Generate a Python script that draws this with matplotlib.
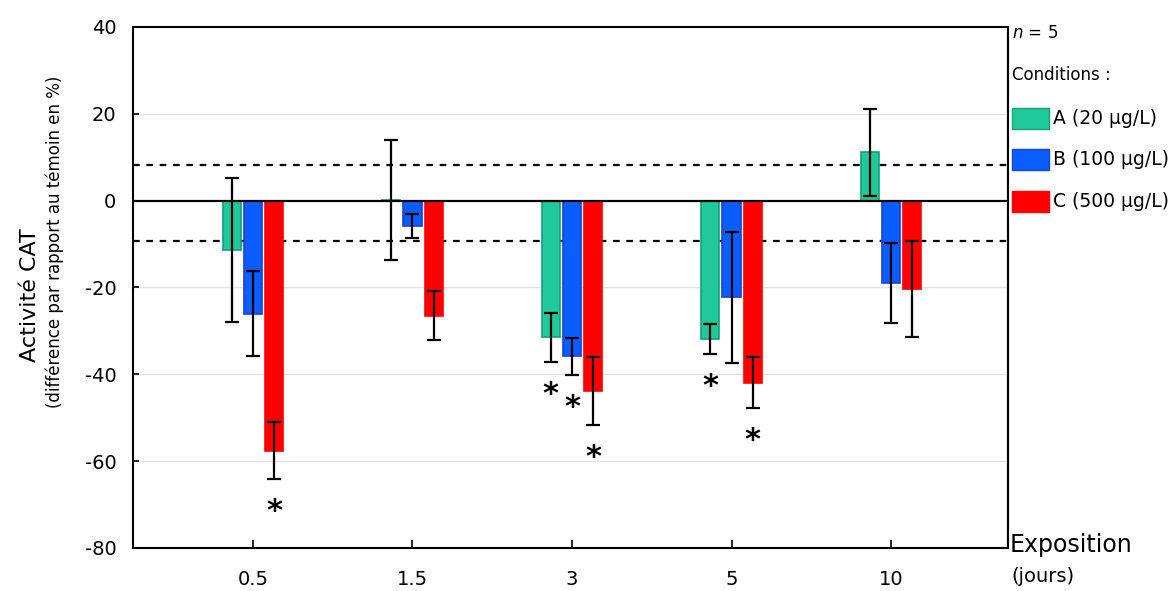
import matplotlib
matplotlib.use('Agg')
import matplotlib.pyplot as plt
import numpy as np

##data
days=['0.5','1.5','3','5','10']
conditions=['A (20 µg/L)','B (100 µg/L)','C (500 µg/L)']
val_A=[-11.3,0.2,-31.5,-31.9,11.1]
err_A=[16.6,13.8,5.6,3.4,10.1]
val_B=[-26.1,-5.8,-35.9,-22.3,-19.0]
err_B=[9.8,2.7,4.3,15.1,9.2]
val_C=[-57.6,-26.5,-43.8,-41.9,-20.3]
err_C=[6.5,5.6,7.8,5.9,11.1]
sig_A=[0,0,1,1,0]
sig_B=[0,0,1,0,0]
sig_C=[1,0,1,1,0]
seuil_haut=8.2
seuil_bas=-9.3

face=['#1fc999','#0a5eff','#ff0000']
edge=['#17a07c','#1c3fd6','#ff0000']

fig=plt.figure(figsize=(11.73,5.91),dpi=100)
ax=fig.add_axes([0.1134,0.0728,0.7459,0.8816])

x=np.arange(len(days))
w=0.115
off=0.133
vals=[val_A,val_B,val_C]
errs=[err_A,err_B,err_C]
sigs=[sig_A,sig_B,sig_C]
for k in range(3):
    xs=x+(k-1)*off
    ax.bar(xs,vals[k],width=w,color=face[k],edgecolor=edge[k],linewidth=1.2,zorder=3,label=conditions[k])
    ax.errorbar(xs,vals[k],yerr=errs[k],fmt='none',ecolor='black',elinewidth=1.6,capsize=4.8,capthick=1.6,zorder=4)
    for i in range(len(days)):
        if sigs[k][i]:
            ax.text(xs[i],vals[k][i]-errs[k][i]-7.5,'*',ha='center',va='center',fontsize=22,fontweight='bold',zorder=5)

ax.axhline(0,color='black',lw=1.6,zorder=4)
ax.axhline(seuil_haut,color='black',lw=1.6,ls=(0,(3,3)),zorder=2)
ax.axhline(seuil_bas,color='black',lw=1.6,ls=(0,(3,3)),zorder=2)

ax.set_xlim(-0.752,4.733)
ax.set_ylim(-80,40)
ax.set_yticks(np.arange(-80,41,20))
ax.set_yticklabels([str(v) for v in range(-80,41,20)])
ax.set_xticks(x)
ax.set_xticklabels(days)
for yv in [20,-20,-40,-60]:
    ax.axhline(yv,color='#e3e3e3',lw=1,zorder=1)
ax.tick_params(axis='y',direction='in',length=4,width=1.2,labelsize=14,pad=12)
ax.tick_params(axis='x',direction='in',length=6,width=1.2,labelsize=14,pad=16)
for s in ax.spines.values():
    s.set_linewidth(1.5)

fig.text(0.026,0.50,'Activité CAT',rotation=90,ha='center',va='center',fontsize=16)
fig.text(0.047,0.59,'(différence par rapport au témoin en %)',rotation=90,ha='center',va='center',fontsize=12)

fig.text(0.861,0.077,'Exposition',ha='left',va='center',fontsize=17)
fig.text(0.862,0.024,'(jours)',ha='left',va='center',fontsize=14)

fig.text(0.863,0.945,'$\\it{n}$ = 5',ha='left',va='center',fontsize=12)
fig.text(0.863,0.873,'Conditions :',ha='left',va='center',fontsize=12)
ly=[0.799,0.730,0.659]
for k in range(3):
    fig.patches.append(plt.Rectangle((0.863,ly[k]-0.017),0.031,0.035,transform=fig.transFigure,
                                     facecolor=face[k],edgecolor=edge[k],lw=1))
    fig.text(0.898,ly[k],conditions[k],ha='left',va='center',fontsize=13.5)

fig.savefig('out.png',dpi=100)
